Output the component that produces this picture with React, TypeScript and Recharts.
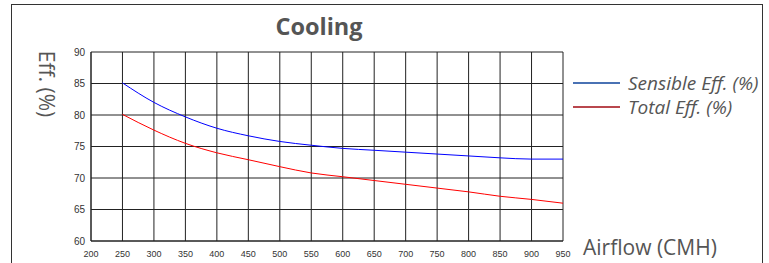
import { CartesianGrid, Line, LineChart, XAxis, YAxis } from "recharts";

const airflow = [250, 300, 350, 400, 450, 500, 550, 600, 650, 700, 750, 800, 850, 900, 950];
const sensibleEff = [85.1, 82.0, 79.7, 77.9, 76.7, 75.8, 75.2, 74.7, 74.4, 74.1, 73.8, 73.5, 73.2, 73.0, 73.0];
const totalEff = [80.1, 77.6, 75.5, 74.0, 72.9, 71.8, 70.8, 70.2, 69.6, 69.0, 68.4, 67.8, 67.1, 66.6, 66.0];

const xTicks = [200, 250, 300, 350, 400, 450, 500, 550, 600, 650, 700, 750, 800, 850, 900, 950];
const yTicks = [60, 65, 70, 75, 80, 85, 90];

const series = [
  { key: "sensible", name: "Sensible Eff. (%)", stroke: "#0000ff", legend: "#4a72b4" },
  { key: "total", name: "Total Eff. (%)", stroke: "#ff0000", legend: "#b9474d" },
];

const data = airflow.map((a, i) => ({ airflow: a, sensible: sensibleEff[i], total: totalEff[i] }));

const textColor = "#555555";
const font = "'Open Sans', sans-serif";

export default function App() {
  return (
    <div style={{ position: "absolute", left: 0, top: 0, width: 769, height: 263, overflow: "hidden", background: "#fff", fontFamily: font }}>
      <div style={{ position: "absolute", left: 11, top: 4, width: 750, height: 300, border: "1.5px solid #333" }} />
      <div style={{ position: "absolute", left: 219, width: 200, top: 10, textAlign: "center", fontSize: 23.5, fontWeight: 700, color: textColor }}>
        Cooling
      </div>
      <div
        style={{
          position: "absolute",
          left: 47,
          top: 84,
          transform: "translate(-50%, -50%) rotate(90deg)",
          whiteSpace: "nowrap",
          fontSize: 21,
          color: textColor,
        }}
      >
        Eff. (%)
      </div>
      <LineChart width={769} height={263} data={data} margin={{ top: 52, right: 206, bottom: 0, left: 61 }} style={{ position: "absolute", left: 0, top: 0 }}>
        <CartesianGrid stroke="#222" strokeWidth={1} />
        <XAxis
          dataKey="airflow"
          type="number"
          domain={[200, 950]}
          ticks={xTicks}
          interval={0}
          height={22}
          tickLine={false}
          tickSize={0}
          tickMargin={10}
          axisLine={{ stroke: "#222" }}
          tick={{ fontSize: 9, fill: "#333", fontFamily: "'Liberation Sans', Arial, sans-serif" }}
        />
        <YAxis
          type="number"
          domain={[60, 90]}
          ticks={yTicks}
          interval={0}
          width={30}
          tickLine={false}
          tickSize={0}
          tickMargin={6}
          axisLine={{ stroke: "#222" }}
          tick={{ fontSize: 10, fill: "#333", fontFamily: "'Liberation Sans', Arial, sans-serif" }}
        />
        {series.map((s) => (
          <Line key={s.key} type="monotone" dataKey={s.key} stroke={s.stroke} strokeWidth={1} dot={false} isAnimationActive={false} />
        ))}
      </LineChart>
      <div style={{ position: "absolute", left: 573, top: 71 }}>
        {series.map((s) => (
          <div key={s.key} style={{ display: "flex", alignItems: "center", height: 24 }}>
            <div style={{ width: 47, height: 2, background: s.legend, marginRight: 8 }} />
            <span style={{ fontSize: 19, lineHeight: "19px", fontStyle: "italic", color: textColor, whiteSpace: "nowrap" }}>{s.name}</span>
          </div>
        ))}
      </div>
      <div style={{ position: "absolute", left: 583, top: 233, fontSize: 21, color: textColor, whiteSpace: "nowrap" }}>
        Airflow (CMH)
      </div>
    </div>
  );
}
